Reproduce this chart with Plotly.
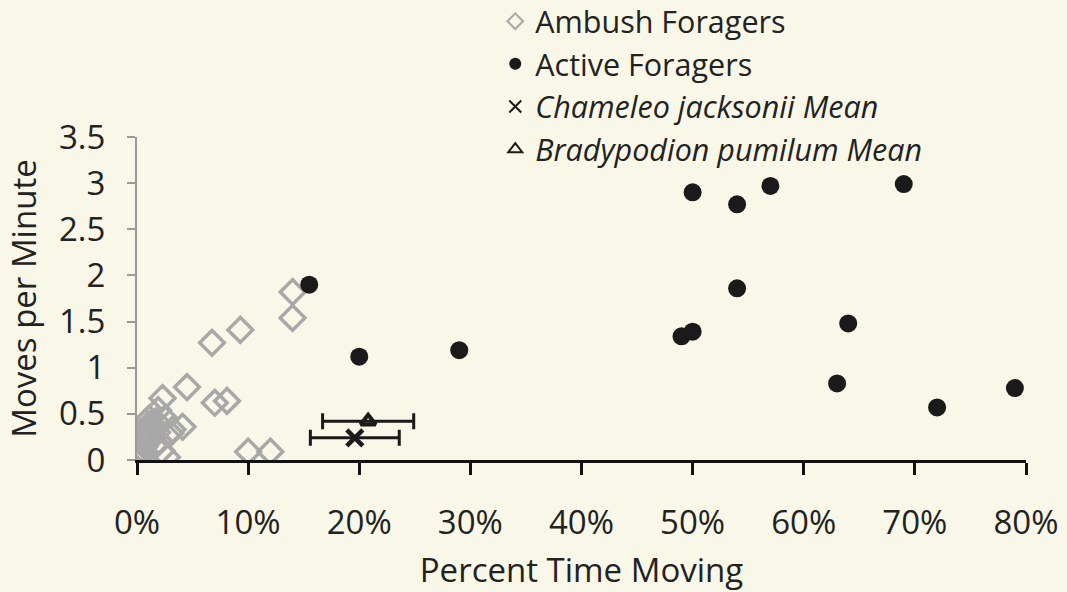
import plotly.graph_objects as go

# Ambush foragers (fraction of time moving, moves per minute)
ambush_x = [0.140, 0.140, 0.093, 0.0675, 0.045, 0.023, 0.070, 0.081, 0.019, 0.041, 0.030, 0.027, 0.100, 0.120,
            0.025, 0.032, 0.002, 0.003, 0.005, 0.004, 0.007, 0.006, 0.009, 0.010, 0.012, 0.008, 0.015, 0.013,
            0.017, 0.011, 0.005, 0.003, 0.014, 0.018, 0.020, 0.016, 0.022, 0.001, 0.010, 0.006]
ambush_y = [1.82, 1.54, 1.41, 1.27, 0.79, 0.67, 0.62, 0.64, 0.54, 0.36, 0.29, 0.03, 0.09, 0.09,
            0.45, 0.33, 0.02, 0.05, 0.08, 0.12, 0.15, 0.20, 0.22, 0.28, 0.30, 0.32, 0.35, 0.40,
            0.42, 0.45, 0.18, 0.10, 0.25, 0.30, 0.20, 0.15, 0.10, 0.00, 0.38, 0.26]

# Active foragers
active_x = [0.155, 0.20, 0.29, 0.49, 0.50, 0.50, 0.54, 0.54, 0.57, 0.69, 0.64, 0.63, 0.72, 0.79]
active_y = [1.90, 1.12, 1.19, 1.34, 1.39, 2.90, 2.77, 1.86, 2.97, 2.99, 1.48, 0.83, 0.57, 0.78]

# Means with horizontal error
cj_x, cj_y, cj_err = [0.196], [0.24], [0.040]
bp_x, bp_y, bp_err = [0.208], [0.42], [0.041]

x_ticks = [0, 0.1, 0.2, 0.3, 0.4, 0.5, 0.6, 0.7, 0.8]
y_ticks = [0, 0.5, 1, 1.5, 2, 2.5, 3, 3.5]
y_labels = ["0", "0.5", "1", "1.5", "2", "2.5", "3", "3.5"]

FONT = "Open Sans"
FS = 33
LFS = 30.5
fig = go.Figure()
fig.add_trace(go.Scatter(x=ambush_x, y=ambush_y, mode="markers", name="Ambush Foragers",
                         marker=dict(symbol="diamond-open", size=19, color="#a8a8a8",
                                     line=dict(width=3.5, color="#a8a8a8"))))
fig.add_trace(go.Scatter(x=active_x, y=active_y, mode="markers", name="Active Foragers",
                         marker=dict(symbol="circle", size=18, color="#1a1a1a")))
fig.add_trace(go.Scatter(x=cj_x, y=cj_y, mode="markers", name="<i>Chameleo jacksonii Mean</i>",
                         marker=dict(symbol="x-thin-open", size=16, color="#1a1a1a",
                                     line=dict(width=4.5, color="#1a1a1a")),
                         error_x=dict(type="data", array=cj_err, color="#1a1a1a", thickness=3, width=8)))
fig.add_trace(go.Scatter(x=bp_x, y=bp_y, mode="markers", name="<i>Bradypodion pumilum Mean</i>",
                         marker=dict(symbol="triangle-up-open", size=13, color="#1a1a1a",
                                     line=dict(width=4, color="#1a1a1a")),
                         error_x=dict(type="data", array=bp_err, color="#1a1a1a", thickness=3, width=8)))

fig.update_layout(
    width=1067, height=592,
    paper_bgcolor="#f9f7e7", plot_bgcolor="#f9f7e7",
    margin=dict(l=137, r=41, t=137, b=132, autoexpand=False),
    font=dict(family=FONT, size=FS, color="#222222"),
    showlegend=True,
    legend=dict(x=0.403, y=1.44, xanchor="left", yanchor="top", bgcolor="rgba(0,0,0,0)",
                font=dict(family=FONT, size=LFS, color="#222222"), tracegroupgap=0,
                itemsizing="constant", itemwidth=30),
    xaxis=dict(range=[0, 0.8], tickvals=x_ticks, tickformat=".0%", showgrid=False, zeroline=False,
               automargin=False,
               showline=True, linecolor="#111111", linewidth=3, ticks="outside", ticklen=12,
               tickwidth=3, tickcolor="#111111", ticklabelstandoff=19,
               title=dict(text="Percent Time Moving", standoff=32, font=dict(size=FS))),
    yaxis=dict(range=[0, 3.5], tickvals=y_ticks, ticktext=y_labels, showgrid=False, zeroline=False,
               automargin=False,
               showline=True, linecolor="#9a9a9a", linewidth=2, ticks="outside", ticklen=8,
               tickwidth=1.5, tickcolor="#9a9a9a", ticklabelstandoff=15,
               title=dict(text="Moves per Minute", standoff=12, font=dict(size=FS))),
)
fig.write_html("out.html", post_script="document.body.style.margin='0px';",
               config={"displayModeBar": False})
